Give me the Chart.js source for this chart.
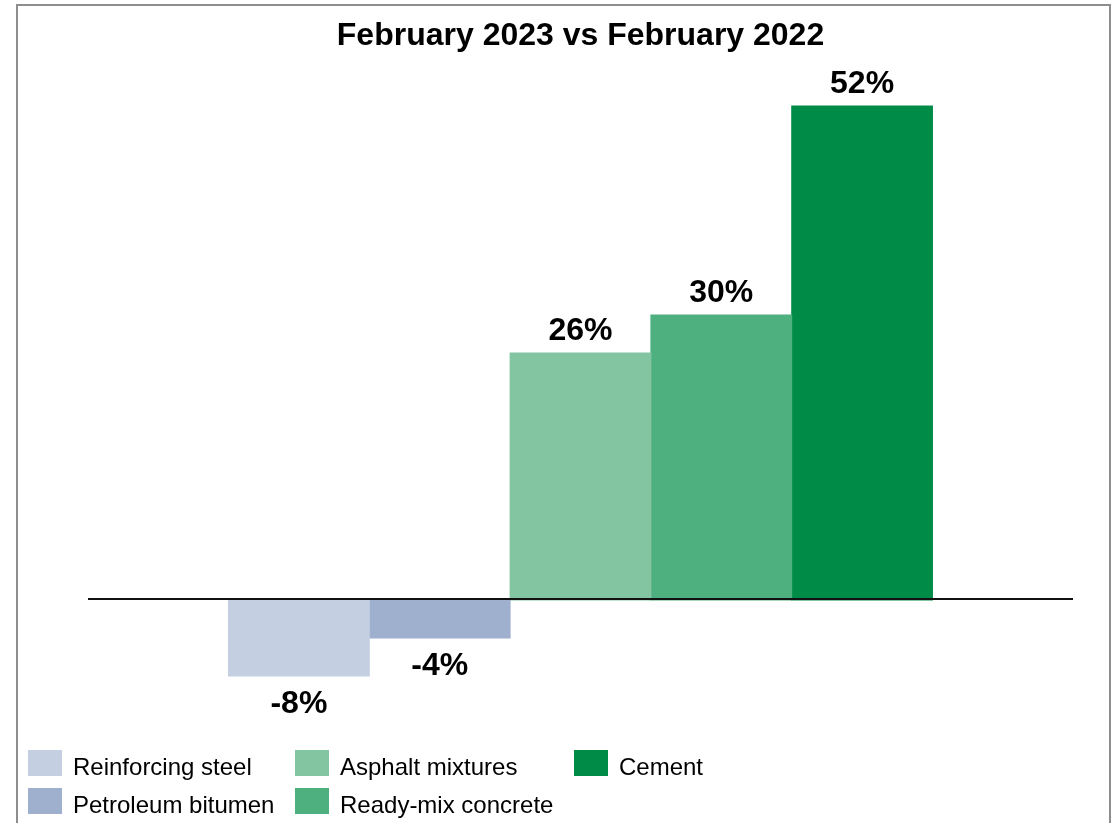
<!DOCTYPE html>
<html>
<head>
<meta charset="utf-8">
<title>February 2023 vs February 2022</title>
<script src="https://cdn.jsdelivr.net/npm/chart.js@4"></script>
<style>
  html, body { margin: 0; padding: 0; background: #fff; overflow: hidden; }
  body { width: 1117px; height: 823px; position: relative; font-family: "Liberation Sans", Arial, sans-serif; }
  #frame { position: absolute; left: 16px; top: 4px; width: 1091px; height: 900px; border: 2px solid #8e8e8e; }
  #chart { position: absolute; left: 0; top: 0; }
  #legend { position: absolute; left: 28px; top: 750px; display: grid;
            grid-auto-flow: column; grid-template-rows: 38px 38px;
            grid-template-columns: 267px 279px 300px; }
  .item { display: flex; align-items: flex-start; }
  .swatch { width: 34px; height: 26px; flex: none; }
  .text { margin-left: 11px; font-size: 24px; line-height: 26px; padding-top: 4px; color: #000; white-space: nowrap; }
</style>
</head>
<body>
<div id="frame"></div>
<canvas id="chart" width="1117" height="823"></canvas>
<div id="legend"></div>
<script>
// Year-on-year price change of construction materials
const titleText = 'February 2023 vs February 2022';
const categories = [''];
const seriesNames = ['Reinforcing steel', 'Petroleum bitumen', 'Asphalt mixtures', 'Ready-mix concrete', 'Cement'];
const seriesValues = [-8, -4, 26, 30, 52];
const seriesColors = ['#c4cfe2', '#9fb0ce', '#83c5a1', '#4eaf7f', '#008c47'];

const FONT = '"Liberation Sans", Arial, sans-serif';

// Value labels above/below each bar, plus the zero baseline
const barLabels = {
  id: 'barLabels',
  afterDatasetsDraw(chart) {
    const ctx = chart.ctx;
    const area = chart.chartArea;
    const y0 = chart.scales.y.getPixelForValue(0);
    ctx.save();
    ctx.strokeStyle = '#111';
    ctx.lineWidth = 2;
    ctx.beginPath();
    ctx.moveTo(area.left, y0 - 1);
    ctx.lineTo(area.right, y0 - 1);
    ctx.stroke();

    ctx.fillStyle = '#000';
    ctx.font = 'bold 32px ' + FONT;
    ctx.textAlign = 'center';
    ctx.textBaseline = 'alphabetic';
    chart.data.datasets.forEach((ds, i) => {
      const bar = chart.getDatasetMeta(i).data[0];
      const v = ds.data[0];
      const text = v + '%';
      const y = v >= 0 ? bar.y - 13 : bar.y + 37;
      ctx.fillText(text, bar.x, y);
    });
    ctx.restore();
  }
};

const chart = new Chart(document.getElementById('chart'), {
  type: 'bar',
  data: {
    labels: categories,
    datasets: seriesNames.map((name, i) => ({
      label: name,
      data: [seriesValues[i]],
      backgroundColor: seriesColors[i],
      borderWidth: 0,
      inflateAmount: 0.5,
      barPercentage: 1,
      categoryPercentage: 0.7147
    }))
  },
  options: {
    responsive: false,
    devicePixelRatio: 1,
    animation: false,
    layout: { padding: { left: 88, right: 44, top: 0, bottom: 33 } },
    scales: {
      x: { display: false },
      y: { display: false, min: -20, max: 56 }
    },
    plugins: {
      legend: { display: false },
      tooltip: { enabled: false },
      title: {
        display: true,
        text: titleText,
        color: '#000',
        font: { family: FONT, size: 32, weight: 'bold' },
        padding: { top: 17, bottom: 12.6 }
      }
    }
  },
  plugins: [barLabels]
});

// Legend laid out in columns: two rows per column
const legend = document.getElementById('legend');
chart.data.datasets.forEach(ds => {
  const item = document.createElement('div');
  item.className = 'item';
  const sw = document.createElement('div');
  sw.className = 'swatch';
  sw.style.background = ds.backgroundColor;
  const tx = document.createElement('div');
  tx.className = 'text';
  tx.textContent = ds.label;
  item.appendChild(sw);
  item.appendChild(tx);
  legend.appendChild(item);
});
</script>
</body>
</html>
